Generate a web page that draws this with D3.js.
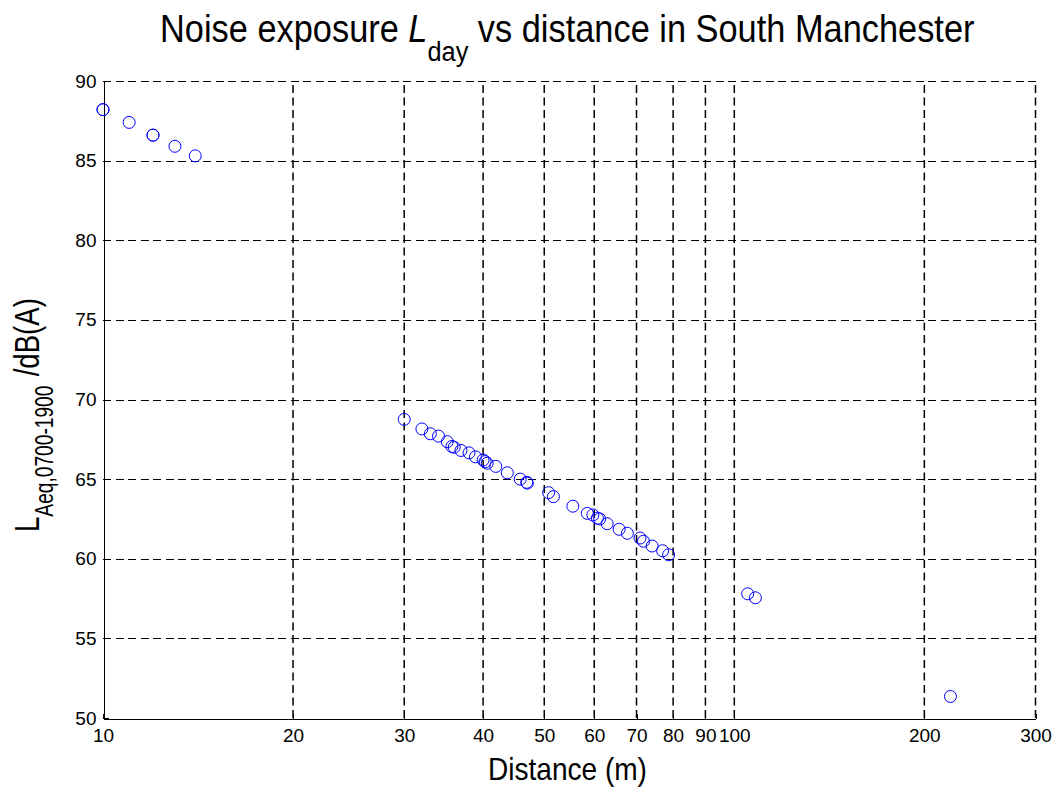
<!DOCTYPE html>
<html>
<head>
<meta charset="utf-8">
<script src="https://cdn.jsdelivr.net/npm/d3@7"></script>
<style>
  html, body { margin: 0; padding: 0; background: #fff; }
  svg { display: block; }
  .narrow { font-family: "Liberation Sans Narrow", "Arial Narrow", "Liberation Sans", Arial, sans-serif; }
  .tick-label { font-family: "Liberation Sans", Arial, sans-serif; font-size: 19px; fill: #000; }
</style>
</head>
<body>
<svg id="chart" width="1059" height="792"></svg>
<script>
// Distance from the road (m) and measured daytime level LAeq,0700-1900 (dB(A))
const distance = [
  10, 10, 11, 12, 12, 13, 14,
  30, 32, 33, 34, 35.1, 35.7, 36, 36.9, 38, 38.9, 40, 40.3, 40.6, 41.9, 43.7, 45.8, 46.9, 47,
  50.8, 51.7, 55.5, 58.5, 59.7, 60.7, 61.2, 62.9, 65.7, 67.7, 70.9, 71.8, 74.1, 77.0, 78.7,
  105, 108, 220
];
const level = [
  88.2, 88.2, 87.4, 86.6, 86.6, 85.9, 85.3,
  68.75, 68.15, 67.85, 67.7, 67.35, 67.05, 67.0, 66.8, 66.65, 66.4, 66.2, 66.1, 66.0, 65.8, 65.4, 65.0, 64.8, 64.75,
  64.15, 63.9, 63.3, 62.85, 62.75, 62.55, 62.5, 62.2, 61.85, 61.6, 61.3, 61.1, 60.8, 60.5, 60.25,
  57.8, 57.55, 51.35
];
const xTicks = [10, 20, 30, 40, 50, 60, 70, 80, 90, 100, 200, 300];
const yTicks = [50, 55, 60, 65, 70, 75, 80, 85, 90];

const W = 1059, H = 792;
const margin = { left: 103, right: W - 1035.5, top: 81, bottom: H - 718 };
const svg = d3.select("#chart");

const x = d3.scaleLog().domain([10, 300]).range([margin.left, W - margin.right]);
const y = d3.scaleLinear().domain([50, 90]).range([H - margin.bottom, margin.top]);
const px = v => Math.round(v) + 0.5;

// Dashed grid
const grid = svg.append("g")
  .attr("stroke", "#000").attr("stroke-dasharray", "8,4.5").attr("fill", "none");
grid.selectAll("line.v").data(xTicks.filter(d => d > 10)).join("line")
  .attr("class", "v")
  .attr("stroke-width", 1.5)
  .attr("x1", d => x(d)).attr("x2", d => x(d))
  .attr("y1", y(50)).attr("y2", y(90));
grid.selectAll("line.h").data(yTicks.filter(d => d > 50)).join("line")
  .attr("class", "h")
  .attr("stroke-width", 1)
  .attr("shape-rendering", "crispEdges")
  .attr("x1", x(10)).attr("x2", x(300))
  .attr("y1", d => px(y(d))).attr("y2", d => px(y(d)));

// Axes (left and bottom only), ticks pointing inward
const xAxis = d3.axisBottom(x).tickValues(xTicks).tickFormat(d3.format("d")).tickSizeInner(-5).tickSizeOuter(0).tickPadding(10);
const yAxis = d3.axisLeft(y).tickValues(yTicks).tickFormat(d3.format("d")).tickSizeInner(-5).tickSizeOuter(0).tickPadding(7);

const gx = svg.append("g").attr("transform", `translate(0,${Math.round(y(50)) + 0.5})`).call(xAxis);
const gy = svg.append("g").attr("transform", `translate(${Math.round(x(10)) + 0.5},0)`).call(yAxis);
[gx, gy].forEach(g => {
  g.attr("shape-rendering", "crispEdges");
  g.select(".domain").attr("stroke", "#000").attr("stroke-width", 1);
  g.selectAll(".tick line").attr("stroke", "#000");
  g.selectAll(".tick text").attr("class", "tick-label").attr("font-size", null).attr("font-family", null);
});
gx.selectAll(".tick text").attr("dy", "0.71em");

// Measurements
svg.append("g").selectAll("circle").data(distance.map((d, i) => [d, level[i]])).join("circle")
  .attr("cx", d => x(d[0]))
  .attr("cy", d => y(d[1]))
  .attr("r", 6)
  .attr("fill", "none")
  .attr("stroke", "#0000ff")
  .attr("stroke-width", 1);

// Squeeze a text element horizontally (in its own frame) to a given length
function squeeze(textSel, baseTransform, length) {
  const w = textSel.node().getBBox().width;
  const s = Math.min(1, length / w);
  textSel.attr("transform", `${baseTransform} scale(${s},1)`);
}

// Title
const cx = (x(10) + x(300)) / 2;
const title = svg.append("text").attr("class", "narrow")
  .attr("x", 0).attr("y", 0)
  .attr("text-anchor", "middle").attr("font-size", 38).attr("fill", "#000");
title.append("tspan").text("Noise exposure ");
title.append("tspan").attr("font-style", "italic").text("L");
title.append("tspan").attr("font-size", 28).attr("dy", 19).text("day");
title.append("tspan").attr("dy", -19).text(" vs distance in South Manchester");
squeeze(title, `translate(${cx - 2},42)`, 815);

// X label
const xlab = svg.append("text").attr("class", "narrow")
  .attr("x", 0).attr("y", 0)
  .attr("text-anchor", "middle").attr("font-size", 32).attr("fill", "#000")
  .text("Distance (m)");
squeeze(xlab, `translate(${(488 + 647) / 2},780)`, 159);

// Y label
const ylab = svg.append("text").attr("class", "narrow")
  .attr("x", 0).attr("y", 0)
  .attr("text-anchor", "start").attr("font-size", 36).attr("fill", "#000");
ylab.append("tspan").text("L");
ylab.append("tspan").attr("font-size", 25).attr("dy", 14).text("Aeq,0700-1900");
ylab.append("tspan").attr("dy", -14).attr("dx", 12).text("/dB(A)");
squeeze(ylab, "translate(39,532) rotate(-90)", 234);
</script>
</body>
</html>
